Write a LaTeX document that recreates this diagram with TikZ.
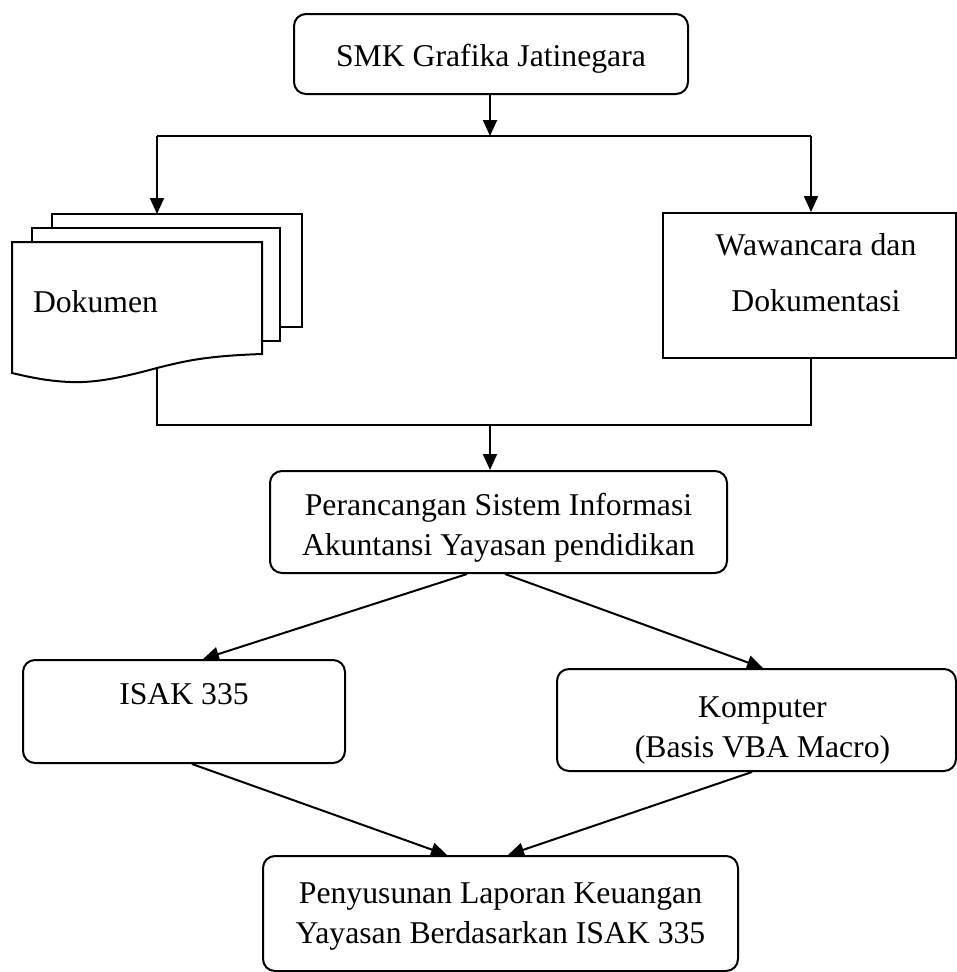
\documentclass[tikz,border=0pt]{standalone}
\usepackage{fontspec}
\setmainfont{Liberation Serif}
\usetikzlibrary{arrows.meta}
\begin{document}
\begin{tikzpicture}[x=1pt,y=-1pt,line width=2pt,
  txt/.style={font=\fontsize{31.7}{40}\selectfont},
  rbox/.style={draw,rounded corners=12pt,inner sep=0pt,anchor=north,txt},
  sbox/.style={draw,inner sep=0pt,anchor=north,txt},
  page/.style={draw,fill=white},
  arr/.style={-{Triangle[length=16pt,width=14pt]}}]
\useasboundingbox (0,0) rectangle (957,972);

% boxes
\node[rbox,minimum width=394pt,text height=52pt,text depth=28pt] (smk) at (491,13) {SMK Grafika Jatinegara};
\node[sbox,minimum width=293pt,text height=42pt,text depth=103pt] (waw) at (809.5,212)
  {\begin{tabular}[t]{@{\hspace{13pt}}c@{}}Wawancara dan\\[16pt]Dokumentasi\end{tabular}};
\node[rbox,minimum width=457pt,text height=44pt,text depth=58pt] (per) at (498.5,470)
  {\begin{tabular}[t]{@{}c@{}}Perancangan Sistem Informasi\\Akuntansi Yayasan pendidikan\end{tabular}};
\node[rbox,minimum width=322pt,text height=44pt,text depth=59pt] (isak) at (184,659) {ISAK 335};
\node[rbox,minimum width=399pt,text height=48pt,text depth=54pt] (komp) at (756.5,668)
  {\begin{tabular}[t]{@{\hspace{12pt}}c@{}}Komputer\\(Basis VBA Macro)\end{tabular}};
\node[rbox,minimum width=475pt,text height=47pt,text depth=68pt] (lap) at (500.5,855)
  {\begin{tabular}[t]{@{}c@{}}Penyusunan Laporan Keuangan\\Yayasan Berdasarkan ISAK 335\end{tabular}};

% multi-document
\draw[page] (52,214) rectangle (302,327);
\draw[page] (32,228) rectangle (280,341);
\draw[page] (12,242) -- (262,242) -- (262,354)
  .. controls (205,356) and (185,361) .. (157,368)
  .. controls (120,378) and (95,383) .. (70,382)
  .. controls (45,381) and (25,376) .. (12,373) -- cycle;
\node[txt,anchor=base west,inner sep=0pt] (dok) at (32,312) {Dokumen};

% coordinates
\coordinate (t1) at (490,136);
\coordinate (tl) at (157,136);
\coordinate (tr) at (811,136);
\coordinate (doctop) at (157,214);
\coordinate (docbot) at (157,368);
\coordinate (bl) at (157,425);
\coordinate (br) at (811,425);
\coordinate (b1) at (490,425);

% connectors
\draw[arr] (smk.south -| t1) -- (t1);
\draw (tl) -- (tr);
\draw[arr] (tl) -- (doctop);
\draw[arr] (tr) -- (tr |- waw.north);
\draw (docbot) -- (bl) -- (br) -- (br |- waw.south);
\draw[arr] (b1) -- (b1 |- per.north);
\draw[arr] ([xshift=-31.5pt]per.south) -- ([xshift=19pt]isak.north);
\draw[arr] ([xshift=6.5pt]per.south) -- ([xshift=6.5pt]komp.north);
\draw[arr] ([xshift=8pt]isak.south) -- ([xshift=-53.5pt]lap.north);
\draw[arr] ([xshift=-4.5pt]komp.south) -- ([xshift=7.5pt]lap.north);
\end{tikzpicture}
\end{document}
